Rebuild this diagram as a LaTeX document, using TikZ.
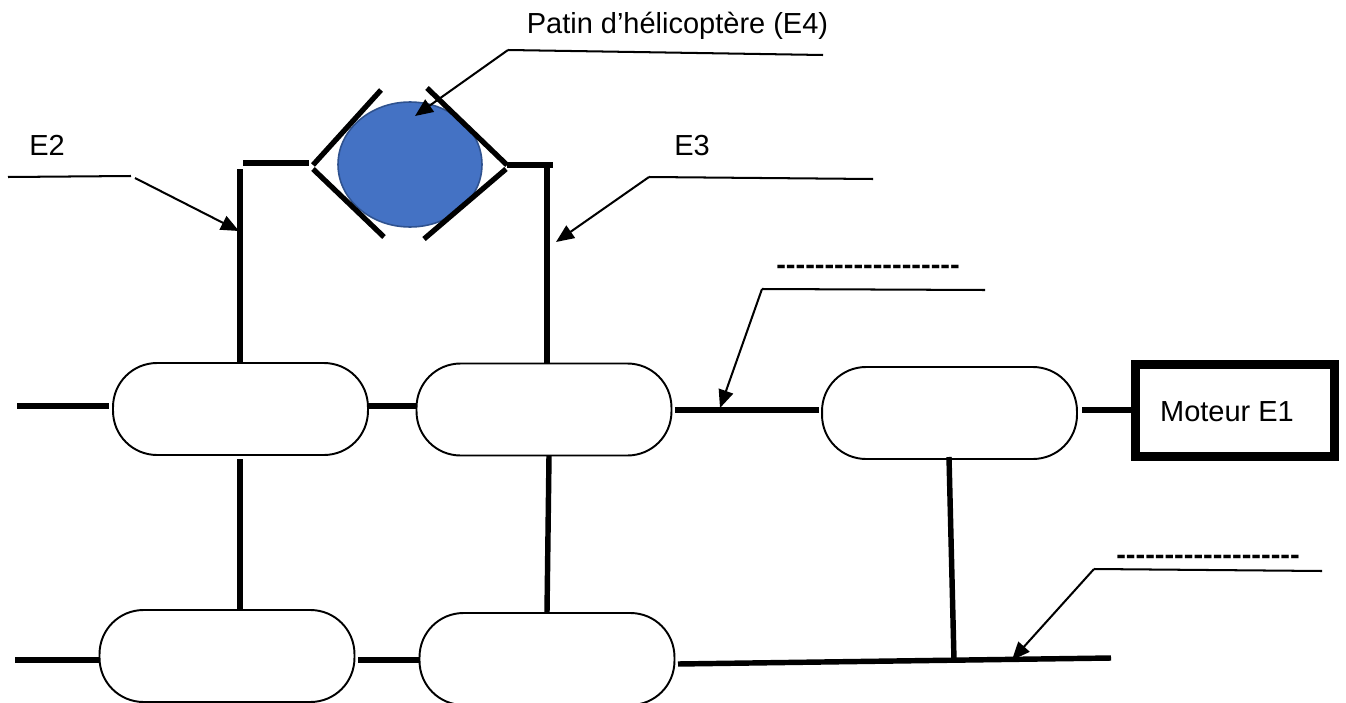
\documentclass[tikz,border=0pt]{standalone}
\usepackage{fontspec}
\setmainfont{Liberation Sans}
\newfontfamily\dashfont{Liberation Sans}
\usetikzlibrary{arrows.meta,shapes.geometric}
\definecolor{patinfill}{HTML}{4472C4}
\definecolor{patinline}{HTML}{2F528F}
\tikzset{
	shaft/.style={line width=3.1pt},
	jaw/.style={line width=3pt},
	leader/.style={line width=1.15pt},
	pointer/.style={leader,-{Triangle[length=.36cm,width=.3cm]}},
	bearing/.style={draw,line width=1.1pt,rectangle,rounded corners=.88cm,minimum width=5.1cm,minimum height=1.84cm,inner sep=0pt},
	legend/.style={font=\fontsize{16.5}{18}\selectfont,inner sep=0pt,anchor=base},
	blank/.style={font=\fontsize{16.5}{18}\selectfont\dashfont\bfseries,inner sep=0pt,anchor=base},
}
\begin{document}
\begin{tikzpicture}[x=.02cm,y=-.02cm]
	\useasboundingbox (0,0) rectangle (1346,703);
	\node[draw=patinline,fill=patinfill,ellipse,line width=.9pt,minimum width=2.88cm,minimum height=2.5cm,inner sep=0pt] (patin) at (410,164.5) {};
	\node[bearing] (b1) at (240.5,409) {};
	\node[bearing] (b2) at (544,409.5) {};
	\node[bearing] (b3) at (949.5,413) {};
	\node[bearing] (b4) at (227,656) {};
	\node[bearing] (b5) at (547,659) {};
	\node[draw,line width=5.1pt,minimum width=3.98cm,minimum height=1.84cm,inner sep=0pt] (moteur) at (1235,410.5) {};
	\node[legend] (moteurT) at (1227,421) {Moteur E1};
	\node[legend] (patinT) at (677.5,33) {Patin d’hélicoptère (E4)};
	\node[legend] (e2T) at (47,155.5) {E2};
	\node[legend] (e3T) at (692,155.5) {E3};
	\node[blank] (dashA) at (868,274.5) {-------------------};
	\node[blank] (dashB) at (1208,564) {-------------------};
	% mors
	\draw[jaw] (313,165) -- (381,90);
	\draw[jaw] (313,169) -- (384,237);
	\draw[jaw] (427,88) -- (507,165);
	\draw[jaw] (506,169) -- (424,239);
	% arbres
	\coordinate (topL) at (240,169);
	\coordinate (topR) at (547,168);
	\draw[shaft] (243,163) -- (309,163);
	\draw[shaft] (507,165) -- (553,165);
	\draw[shaft] (topL) -- (topL |- b1.north);
	\draw[shaft] (topR) -- (topR |- b2.north);
	\coordinate (inA) at (17,406);
	\coordinate (inB) at (15,660);
	\coordinate (midA) at (675,410);
	\coordinate (midB) at (1082,410);
	\coordinate (midC) at (358,660);
	\draw[shaft] (inA) -- ([xshift=-.06cm]inA -| b1.west);
	\draw[shaft] (inA -| b1.east) -- (inA -| b2.west);
	\draw[shaft] (midA) -- ([xshift=-.04cm]midA -| b3.west);
	\draw[shaft] (midB) -- (midB -| moteur.west);
	\draw[shaft] (inB) -- (inB -| b4.west);
	\draw[shaft] (midC) -- (midC -| b5.west);
	\coordinate (barEnd) at (1111,658);
	\draw[shaft] (678,664) -- (barEnd);
	\draw[shaft] (240,459) -- (240,610);
	\draw[shaft] (549,456) -- (547,612);
	\draw[shaft] (949,457) -- (954,660);
	% reperes
	\draw[leader] (823,55) -- (508,50);
	\draw[pointer] (508,50) -- (415,116);
	\draw[leader] (8,177) -- (131,176);
	\draw[pointer] (135,178) -- (239,231);
	\draw[leader] (873,179) -- (649,177);
	\draw[pointer] (649,177) -- (556,242);
	\draw[leader] (985,290) -- (762,289);
	\draw[pointer] (762,289) -- (720,408);
	\draw[leader] (1322,571) -- (1094,569);
	\draw[pointer] (1094,569) -- (1012,660);
\end{tikzpicture}
\end{document}
